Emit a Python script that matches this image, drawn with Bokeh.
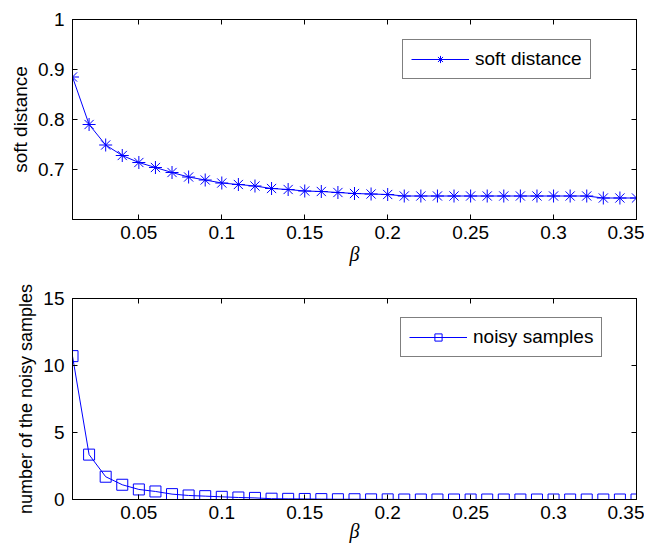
from bokeh.plotting import figure
from bokeh.layouts import column
from bokeh.models import (FixedTicker, LinearAxis, Legend, LegendItem,
                          CustomJSTickFormatter, Range1d)
from bokeh.embed import file_html
from bokeh.resources import INLINE

beta = [0.01, 0.02, 0.03, 0.04, 0.05, 0.06, 0.07, 0.08, 0.09, 0.10,
        0.11, 0.12, 0.13, 0.14, 0.15, 0.16, 0.17, 0.18, 0.19, 0.20,
        0.21, 0.22, 0.23, 0.24, 0.25, 0.26, 0.27, 0.28, 0.29, 0.30,
        0.31, 0.32, 0.33, 0.34, 0.35]

soft_distance = [0.885, 0.790, 0.749, 0.728, 0.714, 0.704, 0.694, 0.685, 0.679, 0.673,
                 0.670, 0.667, 0.662, 0.660, 0.657, 0.656, 0.654, 0.652, 0.651, 0.650,
                 0.647, 0.647, 0.647, 0.647, 0.647, 0.647, 0.647, 0.647, 0.647, 0.647,
                 0.647, 0.647, 0.643, 0.643, 0.643]

noisy_samples = [10.7, 3.35, 1.7, 1.1, 0.75, 0.6, 0.4, 0.3, 0.25, 0.2,
                 0.15, 0.12, 0.06, 0.05, 0.04, 0.03, 0.02, 0.02, 0.01, 0.01,
                 0.0, 0.0, 0.0, 0.0, 0.0, 0.0, 0.0, 0.0, 0.0, 0.0,
                 0.0, 0.0, 0.0, 0.0, 0.0]

x_ticks = [0.05, 0.1, 0.15, 0.2, 0.25, 0.3, 0.35]
top_y_ticks = [0.7, 0.8, 0.9, 1.0]
bottom_y_ticks = [0, 5, 10, 15]

BLUE = "#0000FF"
FONT = "Liberation Sans"
FS = "19px"

fmt = CustomJSTickFormatter(code="return String(Math.round(tick*1000)/1000);")


def style_axis(ax, ticks, labels=True):
    ax.ticker = FixedTicker(ticks=ticks)
    ax.major_tick_in = 5
    ax.major_tick_out = 0
    ax.minor_tick_line_color = None
    ax.axis_line_color = "black"
    ax.major_tick_line_color = "black"
    if labels:
        ax.formatter = fmt
        ax.major_label_text_font = FONT
        ax.major_label_text_font_size = FS
        ax.major_label_text_color = "black"
    else:
        ax.major_label_text_font_size = "0px"
        ax.major_label_text_color = None
        ax.major_label_standoff = 0


def make_fig(height, y_range, y_ticks, ylabel, ylabel_size, border_top,
             border_bottom, xlabel_standoff, ys, marker, msize,
             legend_label, legend_loc):
    p = figure(width=644, height=height, x_range=Range1d(0.01, 0.35),
               y_range=Range1d(*y_range), output_backend="svg",
               toolbar_location=None, min_border_left=72, min_border_right=8,
               min_border_top=border_top, min_border_bottom=border_bottom)
    p.grid.visible = False
    p.outline_line_color = "black"
    p.outline_line_width = 1
    p.background_fill_color = "white"
    p.border_fill_color = "white"

    style_axis(p.xaxis[0], x_ticks)
    style_axis(p.yaxis[0], y_ticks)
    p.xaxis[0].major_label_standoff = 6
    p.yaxis[0].major_label_standoff = 8
    p.xaxis[0].axis_label = "\u03b2"
    p.xaxis[0].axis_label_text_font = "Liberation Serif"
    p.xaxis[0].axis_label_text_font_style = "italic"
    p.xaxis[0].axis_label_text_font_size = "20px"
    p.xaxis[0].axis_label_text_color = "black"
    p.xaxis[0].axis_label_standoff = xlabel_standoff
    p.yaxis[0].axis_label = ylabel
    p.yaxis[0].axis_label_text_font = FONT
    p.yaxis[0].axis_label_text_font_style = "normal"
    p.yaxis[0].axis_label_text_font_size = ylabel_size
    p.yaxis[0].axis_label_text_color = "black"
    p.yaxis[0].axis_label_standoff = 4

    top_ax = LinearAxis()
    style_axis(top_ax, x_ticks, labels=False)
    p.add_layout(top_ax, "above")
    right_ax = LinearAxis()
    style_axis(right_ax, y_ticks, labels=False)
    p.add_layout(right_ax, "right")

    ln = p.line(beta, ys, line_color=BLUE, line_width=1)
    if marker == "asterisk":
        sc = p.scatter(beta, ys, marker="asterisk", size=msize,
                       line_color=BLUE, line_width=1)
    else:
        sc = p.scatter(beta, ys, marker="square", size=msize,
                       line_color=BLUE, fill_color=None, line_width=1)

    leg = Legend(items=[LegendItem(label=legend_label, renderers=[ln, sc])],
                 location=legend_loc, glyph_width=58, glyph_height=18,
                 label_height=18, label_standoff=6, padding=8, margin=0,
                 border_line_color="black", border_line_width=1,
                 background_fill_color="white", background_fill_alpha=1,
                 label_text_font=FONT, label_text_font_size=FS,
                 label_text_color="black")
    p.add_layout(leg)
    return p


top = make_fig(280, (0.6, 1.0), top_y_ticks, "soft distance", FS, 19, 61, 1,
               soft_distance, "asterisk", 13, "soft distance", (330, 140))
bottom = make_fig(268, (0, 15), bottom_y_ticks, "number of the noisy samples",
                  "18px", 18, 49, -2, noisy_samples, "square", 11,
                  "noisy samples", (328, 142))

layout = column(top, bottom, spacing=0)
open("out.html", "w").write(file_html(layout, INLINE))
